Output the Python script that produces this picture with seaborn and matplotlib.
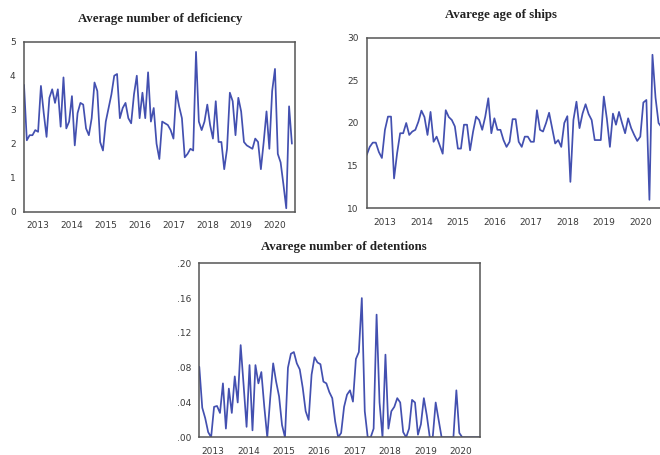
import numpy as np
import pandas as pd
import matplotlib
matplotlib.use("Agg")
import matplotlib.pyplot as plt
import seaborn as sns
from matplotlib.ticker import FixedLocator

# ---------------- data (monthly) ----------------
years = ["2013", "2014", "2015", "2016", "2017", "2018", "2019", "2020"]

deficiency = [3.73, 2.1, 2.25, 2.25, 2.4, 2.35, 3.7, 2.9, 2.2, 3.35,
              3.6, 3.2, 3.6, 2.5, 3.95, 2.45, 2.65, 3.4, 1.95, 2.9,
              3.2, 3.15, 2.45, 2.25, 2.75, 3.8, 3.55, 2.05, 1.8, 2.65,
              3.05, 3.45, 4.0, 4.05, 2.75, 3.05, 3.2, 2.75, 2.6, 3.45,
              4.0, 2.75, 3.5, 2.75, 4.1, 2.65, 3.05, 2.0, 1.55, 2.65,
              2.6, 2.55, 2.4, 2.15, 3.55, 3.1, 2.75, 1.6, 1.7, 1.85,
              1.8, 4.7, 2.65, 2.4, 2.65, 3.15, 2.55, 2.15, 3.25, 2.05,
              2.05, 1.25, 1.85, 3.5, 3.25, 2.25, 3.35, 2.95, 2.05, 1.95,
              1.9, 1.85, 2.15, 2.05, 1.25, 2.05, 2.95, 1.85, 3.55, 4.2,
              1.7, 1.45, 0.8, 0.1, 3.1, 2.0]

ship_age = [16.25, 17.2, 17.7, 17.7, 16.6, 15.9, 19.2, 20.75, 20.75, 13.5,
            16.45, 18.8, 18.8, 20.0, 18.6, 19.0, 19.2, 20.15, 21.45, 20.7,
            18.6, 21.3, 17.8, 18.4, 17.4, 16.4, 21.5, 20.7, 20.35, 19.6,
            17.0, 17.0, 19.8, 19.8, 16.8, 19.0, 20.75, 20.35, 19.2, 20.75,
            22.9, 18.8, 20.55, 19.2, 19.2, 18.0, 17.2, 17.8, 20.45, 20.45,
            17.8, 17.2, 18.4, 18.4, 17.8, 17.8, 21.5, 19.2, 19.0, 20.0,
            21.2, 19.4, 17.6, 18.0, 17.2, 20.0, 20.8, 13.1, 20.35, 22.5,
            19.4, 21.1, 22.2, 21.05, 20.35, 18.0, 18.0, 18.0, 23.1, 20.5,
            17.2, 21.1, 19.8, 21.3, 20.0, 18.8, 20.55, 19.4, 18.6, 17.9,
            18.4, 22.4, 22.7, 11.0, 28.0, 23.0, 20.0, 19.5]

detentions = [0.081, 0.034, 0.022, 0.006, 0.0, 0.035, 0.036, 0.028, 0.062, 0.010,
              0.056, 0.028, 0.070, 0.040, 0.106, 0.060, 0.012, 0.083, 0.008, 0.083,
              0.062, 0.075, 0.035, 0.0, 0.045, 0.085, 0.064, 0.047, 0.014, 0.0,
              0.080, 0.096, 0.098, 0.085, 0.078, 0.057, 0.030, 0.020, 0.072, 0.092,
              0.086, 0.084, 0.064, 0.062, 0.052, 0.045, 0.018, 0.0, 0.005, 0.035,
              0.049, 0.054, 0.041, 0.090, 0.098, 0.160, 0.030, 0.0, 0.0, 0.010,
              0.141, 0.040, 0.0, 0.095, 0.010, 0.030, 0.035, 0.045, 0.040, 0.006,
              0.0, 0.010, 0.043, 0.040, 0.003, 0.015, 0.045, 0.025, 0.0, 0.0,
              0.040, 0.020, 0.0, 0.0, 0.0, 0.0, 0.0, 0.054, 0.005, 0.0,
              0.0, 0.0, 0.0, 0.0, 0.0, 0.0]

titles = ["Average number of deficiency", "Avarege age of ships", "Avarege number of detentions"]

# ---------------- style ----------------
sns.set_style("white")
plt.rcParams["font.family"] = ["DejaVu Sans"]
LINE = "#4350B0"
SPINE = "#555555"
TXT = "#3a3a3a"

W, H = 660, 455
fig = plt.figure(figsize=(W / 100, H / 100), dpi=100)


def add_ax(l, r, t, b):
    return fig.add_axes([l / W, 1 - b / H, (r - l) / W, (b - t) / H])


def style(ax, xmax, label_off, ymin, ymax, yticks, ylabels):
    ax.set_xlim(0, xmax)
    ax.set_ylim(ymin, ymax)
    majors = [label_off + 12 * k for k in range(len(years))]
    ax.xaxis.set_major_locator(FixedLocator(majors))
    ax.set_xticklabels(years)
    q0 = (label_off - 6) % 3
    ax.xaxis.set_minor_locator(FixedLocator(list(np.arange(q0, xmax, 3))))
    ax.set_yticks(yticks)
    ax.set_yticklabels(ylabels)
    ax.tick_params(axis="x", which="major", direction="out", length=4.5, width=0.9,
                   colors=SPINE, labelcolor=TXT, labelsize=6.5, pad=2.5)
    ax.tick_params(axis="x", which="minor", direction="out", length=2.5, width=0.8,
                   colors=SPINE)
    ax.tick_params(axis="y", direction="out", length=3.5, width=0.9,
                   colors=SPINE, labelcolor=TXT, labelsize=6.5, pad=2.5)
    for s in ax.spines.values():
        s.set_color(SPINE)
        s.set_linewidth(1.1)
    ax.set_xlabel("")
    ax.set_ylabel("")


# Panel A: deficiency
axA = add_ax(24, 295, 41.7, 211.7)
dfA = pd.DataFrame({"m": np.arange(len(deficiency)), "v": deficiency})
sns.lineplot(data=dfA, x="m", y="v", ax=axA, color=LINE, linewidth=1.25)
style(axA, 96.1, 5.0, 0, 5, [0, 1, 2, 3, 4, 5], ["0", "1", "2", "3", "4", "5"])

# Panel B: age of ships (right side cut by the figure edge)
axB = add_ax(366.7, 670.7, 37.7, 208.3)
dfB = pd.DataFrame({"m": np.arange(len(ship_age)), "v": ship_age})
sns.lineplot(data=dfB, x="m", y="v", ax=axB, color=LINE, linewidth=1.25)
style(axB, 100, 6.0, 10, 30, [10, 15, 20, 25, 30], ["10", "15", "20", "25", "30"])

# Panel C: detentions
axC = add_ax(199.3, 480, 263.3, 437.3)
dfC = pd.DataFrame({"m": np.arange(len(detentions)), "v": detentions})
sns.lineplot(data=dfC, x="m", y="v", ax=axC, color=LINE, linewidth=1.25)
style(axC, 95, 4.6, 0, 0.20, [0, 0.04, 0.08, 0.12, 0.16, 0.20],
      [".00", ".04", ".08", ".12", ".16", ".20"])

# Titles
title_pos = [(160, 19), (501, 15), (344, 247)]
for (tx, ty), t in zip(title_pos, titles):
    fig.text(tx / W, 1 - ty / H, t, ha="center", va="center", fontsize=9.3,
             fontweight="bold", family=["Liberation Serif", "DejaVu Serif"], color="#222222")

fig.savefig("out.png", dpi=100)
